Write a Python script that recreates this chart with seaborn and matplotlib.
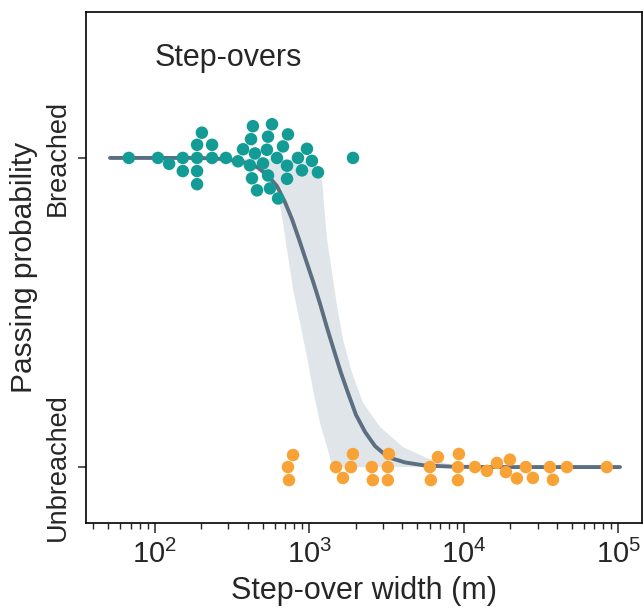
import numpy as np
import pandas as pd
import matplotlib
matplotlib.use("Agg")
import matplotlib.pyplot as plt
import seaborn as sns

# ---------------- data ----------------
breached_width = [68, 105, 124, 152, 152, 188, 188, 188, 188, 202, 235, 235, 289,
                  346, 373, 413, 420, 426, 432, 445, 459, 502, 532, 541, 541, 557,
                  574, 618, 628, 676, 718, 718, 728, 845, 897, 966, 1040, 1138, 1918]
unbreached_width = [728, 739, 785, 1489, 1652, 1860, 1915, 2540, 2578, 3223, 3223,
                    3270, 6026, 6118, 6798, 9150, 9150, 9291, 11800, 14100, 16360,
                    18710, 19860, 22030, 25180, 27970, 36040, 37680, 46420, 84100]

curve_x = [51.4, 196, 285, 384, 466, 541, 618, 696, 773, 858, 952, 1057, 1173,
           1302, 1445, 1603, 1780, 2005, 2293, 2661, 3229, 4159, 5603, 8760,
           14750, 102300]
curve_p = [1.0, 1.0, 0.996, 0.985, 0.969, 0.942, 0.909, 0.857, 0.802, 0.737,
           0.669, 0.601, 0.529, 0.451, 0.377, 0.305, 0.240, 0.169, 0.114, 0.068,
           0.032, 0.015, 0.005, 0.001, 0.0, 0.0]

ci_upper_x = [51.4, 647, 1012, 1140, 1191, 1227, 1247, 1304, 1404, 1513, 1653,
              1890, 2225, 2866, 4036, 5770, 8493, 12700, 102300]
ci_upper_p = [1.0, 0.997, 0.987, 0.970, 0.945, 0.899, 0.847, 0.737, 0.630, 0.519,
              0.412, 0.305, 0.208, 0.130, 0.065, 0.029, 0.006, 0.0, 0.0]
ci_lower_x = [51.4, 264, 384, 495, 618, 676, 728, 785, 871, 966, 1057, 1173,
              1303, 1404, 1581, 102300]
ci_lower_p = [1.0, 0.997, 0.981, 0.948, 0.899, 0.792, 0.682, 0.575, 0.468, 0.357,
              0.250, 0.143, 0.065, 0.006, 0.0, 0.0]

ytick_labels = ["Unbreached", "Breached"]
title_text = "Step-overs"
xlabel_text = "Step-over width (m)"
ylabel_text = "Passing probability"

TEAL = "#129C95"
ORANGE = "#F9A235"
LINE = "#5B6E82"
BAND = "#E0E5E9"

# ---------------- style ----------------
sns.set_style("ticks")
plt.rcParams["font.family"] = ["Liberation Sans", "DejaVu Sans"]
plt.rcParams["mathtext.fontset"] = "custom"
plt.rcParams["mathtext.rm"] = "Liberation Sans"
plt.rcParams["mathtext.it"] = "Liberation Sans:italic"
plt.rcParams["mathtext.bf"] = "Liberation Sans:bold"

fig = plt.figure(figsize=(6.43, 6.10), dpi=100)
ax = fig.add_axes([0.1345, 0.1426, 0.8639, 0.8377])
ax.set_xscale("log")

# confidence band
band_x = np.concatenate([ci_upper_x, ci_lower_x[::-1]])
band_y = np.concatenate([ci_upper_p, ci_lower_p[::-1]])
ax.fill(band_x, band_y, color=BAND, lw=0, zorder=1)

# fitted curve
sns.lineplot(x=curve_x, y=curve_p, color=LINE, lw=2.8, ax=ax, zorder=2,
             sort=False, estimator=None)

# points
df = pd.DataFrame({
    "width": breached_width + unbreached_width,
    "outcome": [1] * len(breached_width) + [0] * len(unbreached_width),
})
sns.swarmplot(data=df, x="width", y="outcome", hue="outcome", orient="h",
              native_scale=True, palette={1: TEAL, 0: ORANGE}, size=9,
              linewidth=0, legend=False, ax=ax, zorder=3)

ax.set_xscale("log")
ax.set_xlim(36.2, 1.42e5)
ax.set_ylim(-0.181, 1.472)
ax.set_yticks([0, 1])
ax.set_yticklabels(ytick_labels, rotation=90, va="center", fontsize=19.5)
ax.tick_params(axis="y", length=6, width=1.1, pad=5)
ax.tick_params(axis="x", which="major", length=7, width=1.1, labelsize=21, pad=5)
ax.tick_params(axis="x", which="minor", length=4, width=1.0)

for s in ax.spines.values():
    s.set_visible(True)
    s.set_linewidth(1.2)
    s.set_color("black")

ax.set_xlabel(xlabel_text, fontsize=22, labelpad=5)
ax.set_ylabel(ylabel_text, fontsize=21.5, labelpad=5)
ax.text(0.123, 0.894, title_text, transform=ax.transAxes, fontsize=22,
        va="baseline", ha="left")

fig.savefig("out.png", dpi=100, facecolor="white")
